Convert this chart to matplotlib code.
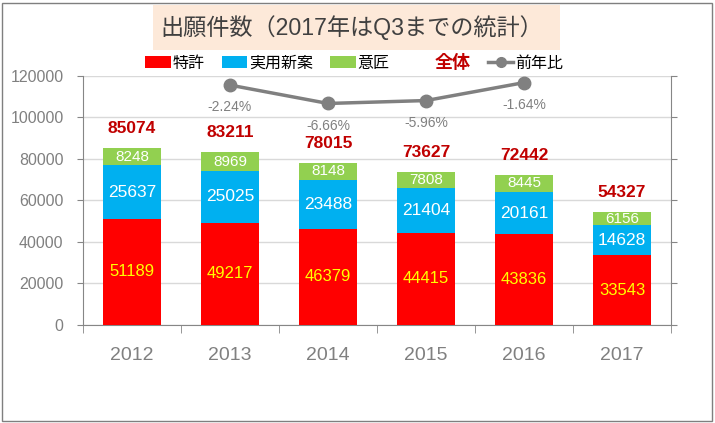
import numpy as np
import matplotlib
matplotlib.use("Agg")
import matplotlib.pyplot as plt
from matplotlib.patches import Patch, Rectangle
from matplotlib.lines import Line2D

plt.rcParams['font.family'] = ['Liberation Sans', 'Noto Sans CJK JP', 'DejaVu Sans']

# data
years = ['2012', '2013', '2014', '2015', '2016', '2017']
patent = [51189, 49217, 46379, 44415, 43836, 33543]
utility = [25637, 25025, 23488, 21404, 20161, 14628]
design = [8248, 8969, 8148, 7808, 8445, 6156]
yoy_years = ['2013', '2014', '2015', '2016']
yoy = [-2.24, -6.66, -5.96, -1.64]  # %

totals = [p + u + d for p, u, d in zip(patent, utility, design)]

RED = '#FF0000'
BLUE = '#00B0F0'
GREEN = '#92D050'
DARKRED = '#C00000'
GRAY = '#808080'
AXGRAY = '#868686'

fig = plt.figure(figsize=(7.15, 4.23), dpi=100)
ax = fig.add_axes([83/715, 1 - 325/423, 588/715, 249.2/423])

x = np.arange(len(years))
w = 0.6
ax.bar(x, patent, w, color=RED, zorder=3)
ax.bar(x, utility, w, bottom=patent, color=BLUE, zorder=3)
bottom2 = [p + u for p, u in zip(patent, utility)]
ax.bar(x, design, w, bottom=bottom2, color=GREEN, zorder=3)

for i in range(len(years)):
    ax.text(x[i], patent[i] / 2, str(patent[i]), ha='center', va='center',
            color='#FFFF00', fontsize=12, zorder=4)
    ax.text(x[i], patent[i] + utility[i] / 2, str(utility[i]), ha='center', va='center',
            color='white', fontsize=12.5, zorder=4)
    ax.text(x[i], bottom2[i] + design[i] / 2, str(design[i]), ha='center', va='center',
            color='white', fontsize=11, zorder=4)
    ax.annotate(str(totals[i]), (x[i], totals[i]), xytext=(0, 14), textcoords='offset points',
                ha='center', va='center', color=DARKRED, fontsize=12.5, fontweight='bold', zorder=4)

ax.set_xlim(-0.5, len(years) - 0.5)
ax.set_ylim(0, 120000)
ax.set_yticks(np.arange(0, 120001, 20000))
ax.yaxis.grid(True, color='#D9D9D9', lw=1, zorder=0)
ax.set_axisbelow(True)

ax.set_xticks(x)
ax.set_xticklabels(years)
ax.set_xticks(np.arange(-0.5, len(years), 1), minor=True)
ax.tick_params(axis='x', which='major', length=0, pad=16, labelsize=14, labelcolor=GRAY)
ax.tick_params(axis='x', which='minor', length=6, color=AXGRAY, direction='out')
ax.tick_params(axis='y', length=4, color=AXGRAY, pad=10, labelsize=11.5, labelcolor=GRAY)

for s in ['left', 'bottom']:
    ax.spines[s].set_color(AXGRAY)
for s in ['top', 'right']:
    ax.spines[s].set_visible(False)

# secondary axis for year-over-year line
ax2 = ax.twinx()
ax2.set_ylim(-60, 0)
ax2.set_yticks(np.arange(-60, 1, 10))
ax2.set_yticklabels([])
ax2.tick_params(axis='y', length=4, color=AXGRAY)
ax2.spines['right'].set_color(AXGRAY)
for s in ['top', 'left', 'bottom']:
    ax2.spines[s].set_visible(False)

xl = [years.index(y) for y in yoy_years]
ax2.plot(xl, yoy, color=GRAY, lw=2.5, marker='o', markersize=9, zorder=5)
for xi, v in zip(xl, yoy):
    ax2.annotate(f'{v:.2f}%', (xi, v), xytext=(0, -16), textcoords='offset points',
                 ha='center', va='center', color=GRAY, fontsize=10)

# title box
fig.patches.append(Rectangle((153/715, 1 - 50/423), 407/715, 45/423, transform=fig.transFigure,
                             facecolor='#FDE9D9', edgecolor='none', zorder=0))
fig.text(352/715, 1 - 28/423, '出願件数（2017年はQ3までの統計）', ha='center', va='center',
         fontsize=16.7, color='#404040')

# legend
handles = [Patch(facecolor=RED), Patch(facecolor=BLUE), Patch(facecolor=GREEN),
           Line2D([], [], color='none'),
           Line2D([], [], color=GRAY, lw=2.5, marker='o', markersize=7)]
labels = ['特許', '実用新案', '意匠', '全体', '前年比']
leg = fig.legend(handles, labels, loc='center', bbox_to_anchor=(354/715, 1 - 63/423), ncol=5,
                 frameon=False, fontsize=11.5, handlelength=1.6, handleheight=0.7,
                 handletextpad=0.1, columnspacing=1.1, borderaxespad=0)
for t in leg.get_texts():
    if t.get_text() == '全体':
        t.set_color(DARKRED)
        t.set_fontweight('bold')
        t.set_fontsize(13)

# outer border
fig.patches.append(Rectangle((2/715, 2/423), 710/715, 418/423, transform=fig.transFigure,
                             facecolor='none', edgecolor='#7F7F7F', lw=1))

fig.savefig('out.png', dpi=100)
